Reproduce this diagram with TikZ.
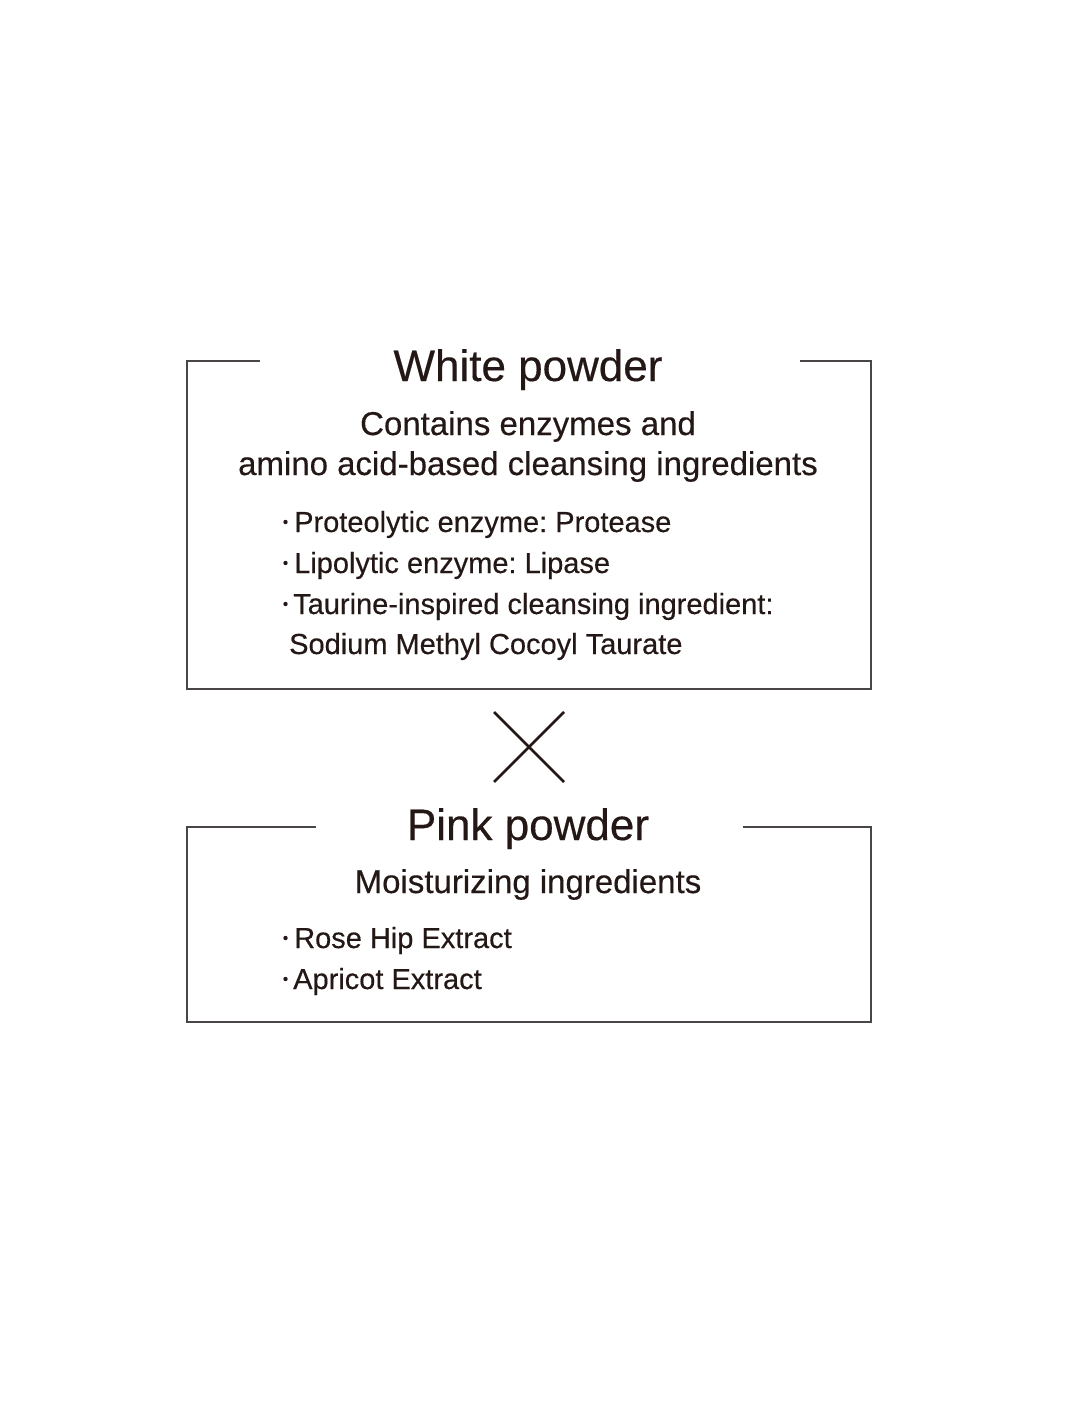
\documentclass[tikz,border=0pt]{standalone}
\usepackage{fontspec}
\setmainfont[FakeBold=0.35]{Liberation Sans}
\definecolor{ink}{HTML}{231815}
\definecolor{rule}{HTML}{4A4546}
\begin{document}
\frenchspacing
\begin{tikzpicture}[x=1pt,y=-1pt,
  title/.style={anchor=base,inner sep=0pt,text=ink,font=\fontsize{44}{50}\selectfont},
  sub/.style={anchor=base,inner sep=0pt,text=ink,font=\fontsize{33}{38}\selectfont},
  item/.style={anchor=base west,inner sep=0pt,text=ink,font=\fontsize{29}{34}\selectfont},
  bul/.style={fill=ink},
  frame/.style={draw=rule,line width=1.1pt},
  cross/.style={draw=ink,line width=2.6pt}]
\useasboundingbox (0,0) rectangle (1065,1420);
\fill[white] (0,0) rectangle (1065,1420);
% top box
\draw[frame] (260,361) -- (187,361) -- (187,689) -- (871,689) -- (871,361) -- (800,361);
\node[title] (wp) at (528,381) {White powder};
\node[sub] (c1) at (528,435) {Contains enzymes and};
\node[sub] (c2) at (528,475) {amino acid-based cleansing ingredients};
\node[item] (i1) at (294,532) {Proteolytic enzyme: Protease};
\node[item] (i2) at (294,573) {Lipolytic enzyme: Lipase};
\node[item] (i3) at (293,614) {Taurine-inspired cleansing ingredient:};
\node[item] (i4) at (289,654) {Sodium Methyl Cocoyl Taurate};
\fill[bul] (285.5,522) circle (2.2);
\fill[bul] (285.5,563) circle (2.2);
\fill[bul] (285.5,604) circle (2.2);
% cross
\coordinate (xa) at (494,712);
\coordinate (xb) at (564,782);
\coordinate (xc) at (564,712);
\coordinate (xd) at (494,782);
\draw[cross] (xa) -- (xb);
\draw[cross] (xc) -- (xd);
% bottom box
\draw[frame] (316,827) -- (187,827) -- (187,1022) -- (871,1022) -- (871,827) -- (743,827);
\node[title] (pp) at (528,840) {Pink powder};
\node[sub] (m1) at (528,893) {Moisturizing ingredients};
\node[item] (r1) at (294,948) {Rose Hip Extract};
\node[item] (r2) at (293,989) {Apricot Extract};
\fill[bul] (285.5,938) circle (2.2);
\fill[bul] (285.5,979) circle (2.2);
\end{tikzpicture}
\end{document}
